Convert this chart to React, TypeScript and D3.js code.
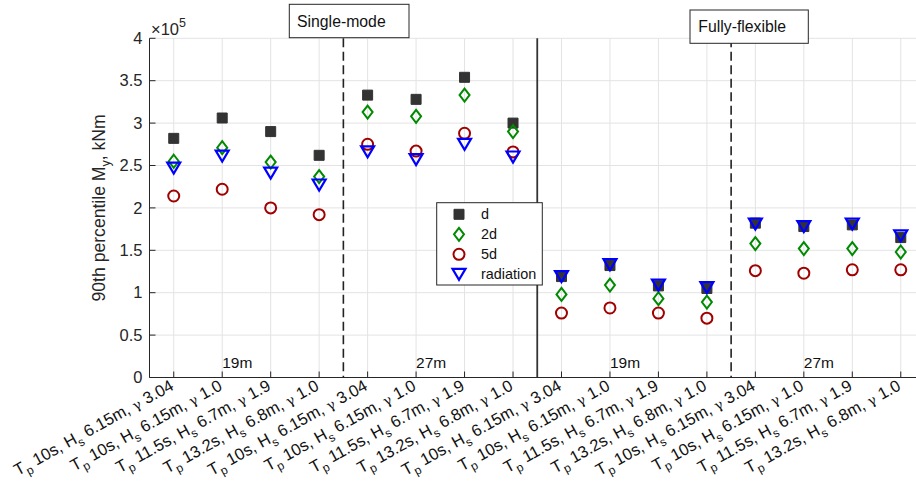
import React from "react";
import * as d3 from "d3";

// sea states, repeated for each group of four cases
const tpValues = ["10s", "10s", "11.5s", "13.2s"];
const hsValues = ["6.15m", "6.15m", "6.7m", "6.8m"];
const gammaValues = ["3.04", "1.0", "1.9", "1.0"];
const groupLabels = ["19m", "27m", "19m", "27m"];

// 90th percentile My, kNm
const dValues = [282000, 306000, 290000, 262000, 333000, 328000, 354000, 300000, 119000, 132000, 108000, 105000, 182000, 178000, 180000, 165000];
const twoDValues = [255000, 271000, 254000, 237000, 313000, 308000, 333000, 290000, 98000, 109000, 93000, 89000, 158000, 152000, 152000, 148000];
const fiveDValues = [214000, 222000, 200000, 192000, 275000, 267000, 288000, 266000, 76000, 82000, 76000, 70000, 126000, 123000, 127000, 127000];
const radiationValues = [247000, 261000, 241000, 227000, 266000, 257000, 275000, 260000, 119000, 133000, 109000, 106000, 181000, 178000, 181000, 167000];

const yTicks = [0, 50000, 100000, 150000, 200000, 250000, 300000, 350000, 400000];

const W = 916;
const H = 482;
const FONT = "'Liberation Sans', Arial, Helvetica, sans-serif";
const AXIS = "#262626";

const cats = d3.range(1, 17);
const categories = cats.map((_, i) => ({
  tp: tpValues[i % 4],
  hs: hsValues[i % 4],
  gamma: gammaValues[i % 4],
}));

const x = d3.scaleLinear().domain([0.5, 16.5]).range([149.5, 925]);
const y = d3.scaleLinear().domain([0, 400000]).range([377.5, 38.3]);

const square = (s: number) => `M${-s / 2},${-s / 2}h${s}v${s}h${-s}Z`;
const diamond = (w: number, h: number) => `M0,${-h / 2}L${w / 2},0L0,${h / 2}L${-w / 2},0Z`;
const triDown = (w: number, h: number) => `M${-w / 2},${-h / 2}L${w / 2},${-h / 2}L0,${h / 2}Z`;

const series = [
  { name: "d", values: dValues, path: square(10), fill: "#333333", stroke: "#333333", sw: 1 },
  { name: "2d", values: twoDValues, path: diamond(10, 13), fill: "none", stroke: "#008a00", sw: 2 },
  { name: "5d", values: fiveDValues, path: d3.symbol(d3.symbolCircle, 95)() as string, fill: "none", stroke: "#a00000", sw: 2 },
  { name: "radiation", values: radiationValues, path: triDown(13, 11), fill: "none", stroke: "#0000ff", sw: 2.2 },
];

const App = () => {
  const top = y(400000);
  const bottom = y(0);
  return (
    <svg width={W} height={H} style={{ position: "absolute", left: 0, top: 0, background: "#fff" }} fontFamily={FONT}>
      {/* grid */}
      {cats.map((c) => (
        <line key={"gx" + c} x1={x(c)} x2={x(c)} y1={top} y2={bottom} stroke="#e3e3e3" />
      ))}
      {yTicks.map((t) => (
        <line key={"gy" + t} x1={x(0.5)} x2={W} y1={y(t)} y2={y(t)} stroke="#e3e3e3" />
      ))}

      {/* separators */}
      {[4.5, 12.5].map((s) => (
        <line key={"ds" + s} x1={x(s)} x2={x(s)} y1={top} y2={bottom} stroke="#222" strokeWidth={1.6} strokeDasharray="9,4.5" />
      ))}
      <line x1={x(8.5)} x2={x(8.5)} y1={top} y2={bottom} stroke="#333" strokeWidth={1.8} />

      {/* group labels */}
      {groupLabels.map((g, i) => (
        <text key={"g" + i} x={x(i * 4 + 2)} y={368} fontSize={15.5} fill="#111">{g}</text>
      ))}

      {/* points */}
      {series.map((s) => (
        <g key={s.name}>
          {s.values.map((v, i) => (
            <path key={i} d={s.path} transform={`translate(${x(i + 1)},${y(v)})`} fill={s.fill} stroke={s.stroke} strokeWidth={s.sw} />
          ))}
        </g>
      ))}

      {/* axes */}
      <line x1={x(0.5)} x2={W} y1={bottom} y2={bottom} stroke={AXIS} strokeWidth={1} />
      <line x1={x(0.5)} x2={x(0.5)} y1={top} y2={bottom} stroke={AXIS} strokeWidth={1} />
      {cats.map((c) => (
        <line key={"tx" + c} x1={x(c)} x2={x(c)} y1={bottom} y2={bottom - 6} stroke={AXIS} />
      ))}
      {yTicks.map((t) => (
        <g key={"ty" + t}>
          <line x1={x(0.5)} x2={x(0.5) + 6} y1={y(t)} y2={y(t)} stroke={AXIS} />
          <text x={x(0.5) - 7} y={y(t)} dy="0.35em" textAnchor="end" fontSize={16.5} fill={AXIS}>
            {d3.format("~g")(t / 100000)}
          </text>
        </g>
      ))}
      <text x={151} y={35} fontSize={16.5} fill={AXIS}>
        ×10<tspan dy={-8} fontSize={12.5}>5</tspan>
      </text>

      {/* x tick labels */}
      {categories.map((c, i) => (
        <g key={"xl" + i} transform={`translate(${x(i + 1) + 1},389) rotate(-29)`}>
          <text x={0} y={0} textAnchor="end" fontSize={16.5} fill="#111">
            T<tspan fontSize={12} dy={5}>p</tspan>
            <tspan dy={-5}>{" " + c.tp + ", H"}</tspan>
            <tspan fontSize={12} dy={5}>s</tspan>
            <tspan dy={-5}>{" " + c.hs + ", "}</tspan>
            <tspan fontSize={13.5} fontFamily="'DejaVu Serif', serif">γ</tspan>
            <tspan>{" " + c.gamma}</tspan>
          </text>
        </g>
      ))}

      {/* y label */}
      <text transform={`translate(105,${(top + bottom) / 2}) rotate(-90)`} textAnchor="middle" fontSize={17.6} fill={AXIS}>
        90th percentile M<tspan fontSize={12.5} dy={5}>y</tspan>
        <tspan dy={-5}>, kNm</tspan>
      </text>

      {/* legend */}
      <g>
        <rect x={436.7} y={202.7} width={105.6} height={82.3} fill="#fff" stroke={AXIS} strokeWidth={1} />
        {series.map((s, i) => (
          <g key={"lg" + s.name} transform={`translate(0,${214.3 + i * 20})`}>
            <path d={s.path} transform="translate(459,0)" fill={s.fill} stroke={s.stroke} strokeWidth={s.sw} />
            <text x={481} y={0} dy="0.35em" fontSize={14.4} fill="#111">{s.name}</text>
          </g>
        ))}
      </g>

      {/* annotations */}
      <rect x={289.3} y={4.3} width={119.7} height={33.4} fill="#fff" stroke={AXIS} />
      <text x={297} y={21} dy="0.35em" fontSize={15.8} fill="#111">Single-mode</text>
      <rect x={690} y={10} width={118.3} height={33.3} fill="#fff" stroke={AXIS} />
      <text x={698.3} y={26.7} dy="0.35em" fontSize={15.8} fill="#111">Fully-flexible</text>
    </svg>
  );
};

export default App;
